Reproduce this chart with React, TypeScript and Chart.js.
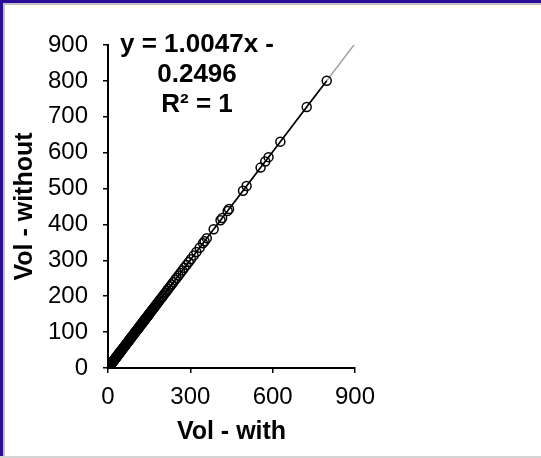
import React, { useEffect, useRef } from "react";
import { Chart, registerables } from "chart.js";

Chart.register(...registerables);

// Vol - with (x)
const volWith: number[] = [
  0.2, 0.5, 0.8, 1, 1.3, 1.6, 2, 2.4, 2.8, 3.2, 3.6, 4, 4.5, 5, 5.5, 6, 6.5, 7, 7.5, 8, 8.5, 9, 9.5, 10,
  11, 12, 13, 14, 15, 16, 17, 18, 19, 20, 21, 22, 23, 24, 25, 26, 27, 28, 29, 30,
  31, 32, 33, 34, 35, 36, 37, 38, 39, 40, 41, 42, 43, 44, 45, 46, 47, 48, 49, 50,
  52, 54, 56, 58, 60, 62, 64, 66, 68, 70, 72, 74, 76, 78, 80, 82, 84, 86, 88, 90,
  92, 94, 96, 98, 100, 102, 104, 106, 108, 110, 112, 114, 116, 118, 120, 122, 124, 126, 128, 130,
  132, 134, 136, 138, 140, 142, 144, 146, 148, 150, 153, 156, 159, 162, 165, 168, 171, 174, 177, 180,
  184, 188, 192, 196, 200, 205, 210, 215, 220, 226, 232, 238, 244, 250, 257, 264, 271, 278, 286, 294,
  302, 312, 322, 334, 346, 352, 360, 385, 410, 416, 436, 441, 492, 505, 556, 573, 585, 628, 724, 797,
];
// Vol - without (y)
const volWithout: number[] = [
  0.0, 0.3, 0.6, 0.8, 1.1, 1.4, 1.8, 2.2, 2.6, 3.0, 3.4, 3.8, 4.3, 4.8, 5.3, 5.8, 6.3, 6.8, 7.3, 7.8, 8.3, 8.8, 9.3, 9.8,
  10.8, 11.8, 12.8, 13.8, 14.8, 15.8, 16.8, 17.8, 18.8, 19.8, 20.9, 21.9, 22.9, 23.9, 24.9, 25.9, 26.9, 27.9, 28.9, 29.9,
  30.9, 31.9, 32.9, 33.9, 34.9, 35.9, 36.9, 37.9, 38.9, 39.9, 40.9, 41.9, 42.9, 44.0, 45.0, 46.0, 47.0, 48.0, 49.0, 50.0,
  52.0, 54.0, 56.0, 58.0, 60.0, 62.0, 64.1, 66.1, 68.1, 70.1, 72.1, 74.1, 76.1, 78.1, 80.1, 82.1, 84.1, 86.2, 88.2, 90.2,
  92.2, 94.2, 96.2, 98.2, 100.2, 102.2, 104.2, 106.2, 108.3, 110.3, 112.3, 114.3, 116.3, 118.3, 120.3, 122.3, 124.3, 126.3, 128.4, 130.4,
  132.4, 134.4, 136.4, 138.4, 140.4, 142.4, 144.4, 146.4, 148.4, 150.5, 153.5, 156.5, 159.5, 162.5, 165.5, 168.5, 171.6, 174.6, 177.6, 180.6,
  184.6, 188.6, 192.7, 196.7, 200.7, 205.7, 210.7, 215.8, 220.8, 226.8, 232.8, 238.9, 244.9, 250.9, 257.9, 265.0, 272.0, 279.1, 287.1, 295.1,
  303.2, 313.2, 323.3, 335.3, 347.4, 353.4, 361.4, 386.6, 411.7, 417.7, 437.8, 442.8, 494.1, 507.1, 558.4, 575.4, 587.5, 630.7, 727.2, 800.5,
];

// Linear trendline from the chart's equation
const trendSlope = 1.0047;
const trendIntercept = -0.2496;
const trendRange: number[] = [0, 900];

const equationLines: string[] = ["y = 1.0047x -", "0.2496", "R² = 1"];
const xTicks: number[] = [0, 300, 600, 900];

const FONT = "'Liberation Sans', Arial, sans-serif";

export default function App() {
  const canvasRef = useRef<HTMLCanvasElement | null>(null);

  useEffect(() => {
    const canvas = canvasRef.current;
    if (!canvas) return;

    const n = Math.min(volWith.length, volWithout.length);
    const points = volWith.slice(0, n).map((x, i) => ({ x, y: volWithout[i] }));
    const trend = trendRange.map((x) => ({ x, y: trendSlope * x + trendIntercept }));

    const equationPlugin = {
      id: "equation",
      afterDraw(chart: any) {
        const ctx = chart.ctx;
        ctx.save();
        ctx.fillStyle = "#000";
        ctx.font = `bold 26px ${FONT}`;
        ctx.textAlign = "center";
        ctx.textBaseline = "alphabetic";
        const cx = 197;
        const baselines = [52, 82, 112];
        equationLines.forEach((t, i) => ctx.fillText(t, cx, baselines[i]));
        ctx.restore();
      },
    };

    const chart = new Chart(canvas, {
      type: "scatter",
      data: {
        datasets: [
          {
            label: "data",
            data: points,
            showLine: true,
            borderColor: "#000",
            borderWidth: 1.6,
            pointRadius: 4.5,
            pointBorderWidth: 1.5,
            pointBorderColor: "#000",
            pointBackgroundColor: "rgba(0,0,0,0)",
            order: 1,
          },
          {
            label: "trend",
            data: trend,
            showLine: true,
            borderColor: "#a6a6a6",
            borderWidth: 1.6,
            pointRadius: 0,
            order: 2,
          },
        ],
      },
      options: {
        animation: false,
        responsive: false,
        devicePixelRatio: 1,
        layout: { padding: { top: 45, right: 186, left: 0, bottom: 0 } },
        plugins: {
          legend: { display: false },
          tooltip: { enabled: false },
        },
        scales: {
          x: {
            type: "linear",
            min: 0,
            max: 900,
            afterFit(scale: any) {
              scale.height = 90;
            },
            afterBuildTicks(scale: any) {
              scale.ticks = xTicks.map((v) => ({ value: v }));
            },
            grid: {
              display: true,
              drawOnChartArea: false,
              drawTicks: true,
              tickLength: 5,
              color: "#000",
              lineWidth: 1.5,
            },
            border: { display: true, color: "#000", width: 2 },
            ticks: {
              color: "#000",
              font: { family: FONT, size: 24 },
              padding: 10,
              maxRotation: 0,
            },
            title: {
              display: true,
              text: "Vol - with",
              color: "#000",
              font: { family: FONT, size: 25, weight: "bold" },
              padding: { top: 0, bottom: 11 },
            },
          },
          y: {
            type: "linear",
            min: 0,
            max: 900,
            afterFit(scale: any) {
              scale.width = 108;
            },
            grid: {
              display: true,
              drawOnChartArea: false,
              drawTicks: true,
              tickLength: 5,
              color: "#000",
              lineWidth: 1.5,
            },
            border: { display: true, color: "#000", width: 2 },
            ticks: {
              stepSize: 100,
              color: "#000",
              font: { family: FONT, size: 24 },
              padding: 15,
            },
            title: {
              display: true,
              text: "Vol - without",
              color: "#000",
              font: { family: FONT, size: 25, weight: "bold" },
              padding: { top: 10, bottom: 0 },
            },
          },
        },
      },
      plugins: [equationPlugin],
    } as any);

    return () => chart.destroy();
  }, []);

  return (
    <div
      style={{
        position: "fixed",
        left: 0,
        top: 0,
        width: 541,
        height: 458,
        background: "#fff",
        overflow: "hidden",
      }}
    >
      <canvas ref={canvasRef} width={541} height={458} style={{ position: "absolute", left: 0, top: 0, width: 541, height: 458 }} />
      <div style={{ position: "absolute", left: 0, top: 0, width: 541, height: 3, background: "#2a0c99" }} />
      <div style={{ position: "absolute", left: 0, top: 3, width: 541, height: 2, background: "#c0c0c0" }} />
      <div style={{ position: "absolute", left: 0, top: 0, width: 3, height: 458, background: "#2a0c99" }} />
      <div style={{ position: "absolute", left: 3, top: 3, width: 2, height: 455, background: "#c0c0c0" }} />
      <div style={{ position: "absolute", left: 0, top: 456, width: 541, height: 2, background: "#d4d4d4" }} />
    </div>
  );
}
